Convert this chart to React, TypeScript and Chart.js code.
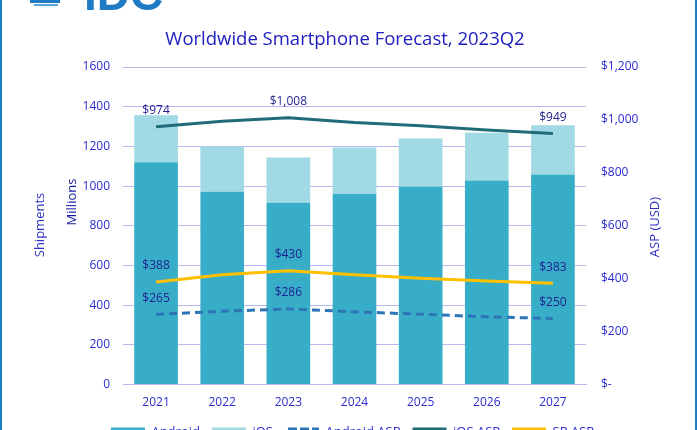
import React, { useEffect, useRef } from 'react';
import { Chart, registerables } from 'chart.js';
Chart.register(...registerables);

const years = ['2021', '2022', '2023', '2024', '2025', '2026', '2027'];
const android = [1120, 972, 916, 962, 997, 1028, 1058];
const ios = [237, 228, 228, 233, 243, 241, 248];
const androidAsp = [265, 277, 286, 275, 266, 256, 250];
const iosAsp = [974, 995, 1008, 990, 978, 962, 949];
const spAsp = [388, 415, 430, 415, 402, 391, 383];
const labeledIdx = [0, 2, 6];

const C_ANDROID = '#37adc8';
const C_IOS = '#a1d9e4';
const C_ANDROID_ASP = '#2e75b6';
const C_IOS_ASP = '#1f6b78';
const C_SP_ASP = '#ffc000';
const TICK = '#2b2bd0';
const LABEL = '#1f1f90';
const GRID = '#b8b8f0';
const FONT = '"Open Sans", sans-serif';

function fmtMoney(v: number) {
  if (v === 0) return '$-';
  return '$' + v.toLocaleString('en-US');
}

function dashPattern(ctx: CanvasRenderingContext2D, color: string) {
  const c = document.createElement('canvas');
  c.width = 12;
  c.height = 12;
  const g = c.getContext('2d')!;
  g.fillStyle = color;
  g.fillRect(0, 0, 9, 12);
  return ctx.createPattern(c, 'repeat');
}

export default function App() {
  const ref = useRef<HTMLCanvasElement>(null);
  useEffect(() => {
    const canvas = ref.current!;
    const ctx = canvas.getContext('2d')!;
    const decor = {
      id: 'decor',
      beforeDraw(chart: any) {
        const c = chart.ctx;
        c.save();
        c.fillStyle = '#ffffff';
        c.fillRect(0, 0, chart.width, chart.height);
        // IDC logo (partially cut off)
        c.fillStyle = '#1e7bc4';
        c.fillRect(30, 0, 30, 3);
        c.fillStyle = '#5aa3d8';
        c.fillRect(34, 4, 24, 2);
        c.fillStyle = '#1e7bc4';
        c.font = 'bold 46px Arial, sans-serif';
        c.textAlign = 'left';
        c.textBaseline = 'alphabetic';
        c.fillText('IDC', 84, 10);
        // borders
        c.fillStyle = '#1a7cc4';
        c.fillRect(0, 0, 2, chart.height);
        c.fillRect(695, 0, 2, chart.height);
        // title
        c.fillStyle = '#2020c0';
        c.font = '18.5px ' + FONT;
        c.textAlign = 'center';
        c.textBaseline = 'middle';
        c.fillText('Worldwide Smartphone Forecast, 2023Q2', 345, 40);
        // axis titles
        const vt = (t: string, x: number, y: number, col: string) => {
          c.save();
          c.translate(x, y);
          c.rotate(-Math.PI / 2);
          c.fillStyle = col;
          c.font = '13px ' + FONT;
          c.textAlign = 'center';
          c.textBaseline = 'middle';
          c.fillText(t, 0, 0);
          c.restore();
        };
        vt('Shipments', 40, 225, '#3030c8');
        vt('Millions', 72, 202, '#1a1aa0');
        vt('ASP (USD)', 655, 227, '#2b2bc8');
        c.restore();
      },
    };
    const labels = {
      id: 'vlabels',
      afterDatasetsDraw(chart: any) {
        const c = chart.ctx;
        c.save();
        c.fillStyle = LABEL;
        c.font = '12px ' + FONT;
        c.textAlign = 'center';
        c.textBaseline = 'middle';
        [2, 3, 4].forEach((di) => {
          const meta = chart.getDatasetMeta(di);
          const data = chart.data.datasets[di].data as number[];
          labeledIdx.forEach((i) => {
            const p = meta.data[i];
            c.fillText(fmtMoney(data[i]), p.x, p.y - 16);
          });
        });
        c.restore();
      },
    };
    const chart = new Chart(ctx, {
      type: 'bar',
      data: {
        labels: years,
        datasets: [
          { type: 'bar', label: 'Android', data: android, backgroundColor: C_ANDROID, yAxisID: 'y', order: 2, categoryPercentage: 1, barPercentage: 0.66 },
          { type: 'bar', label: 'iOS', data: ios, backgroundColor: C_IOS, yAxisID: 'y', order: 2, categoryPercentage: 1, barPercentage: 0.66 },
          { type: 'line', label: 'Android ASP', data: androidAsp, borderColor: C_ANDROID_ASP, borderWidth: 3, borderDash: [8, 5], pointRadius: 0, yAxisID: 'y1', order: 1 },
          { type: 'line', label: 'iOS ASP', data: iosAsp, borderColor: C_IOS_ASP, borderWidth: 3, pointRadius: 0, yAxisID: 'y1', order: 1 },
          { type: 'line', label: 'SP ASP', data: spAsp, borderColor: C_SP_ASP, borderWidth: 3, pointRadius: 0, yAxisID: 'y1', order: 1 },
        ] as any,
      },
      options: {
        animation: false,
        responsive: false,
        layout: { padding: { top: 67, bottom: 0, left: 8, right: 0 } },
        plugins: {
          title: { display: false },
          tooltip: { enabled: false },
          legend: {
            position: 'bottom',
            labels: {
              color: TICK,
              font: { family: FONT, size: 13 },
              boxWidth: 34,
              boxHeight: 10,
              padding: 12,
              generateLabels: (ch: any) =>
                ch.data.datasets.map((ds: any, i: number) => {
                  let fill: any = ds.backgroundColor;
                  if (ds.type === 'line') fill = ds.borderDash ? dashPattern(ch.ctx, ds.borderColor) : ds.borderColor;
                  return {
                    text: ds.label,
                    fillStyle: fill,
                    strokeStyle: 'transparent',
                    lineWidth: 0,
                    fontColor: TICK,
                    datasetIndex: i,
                    hidden: false,
                  };
                }),
            },
          },
        },
        scales: {
          x: {
            stacked: true,
            grid: { display: false, drawTicks: false },
            border: { display: true, color: GRID },
            ticks: { color: TICK, font: { family: FONT, size: 12 }, padding: 11 },
            afterFit: (s: any) => { s.height = s.height - 7; },
          },
          y: {
            stacked: true,
            position: 'left',
            min: 0,
            max: 1600,
            ticks: { stepSize: 200, color: TICK, font: { family: FONT, size: 12 }, padding: 13, callback: (v: any) => String(v) },
            grid: { color: GRID, drawTicks: false },
            border: { display: false },
            afterFit: (s: any) => { s.width = 115; },
          },
          y1: {
            position: 'right',
            min: 0,
            max: 1200,
            ticks: { stepSize: 200, color: TICK, font: { family: FONT, size: 12 }, padding: 15, callback: (v: any) => fmtMoney(Number(v)) },
            grid: { display: false, drawTicks: false },
            border: { display: false },
            afterFit: (s: any) => { s.width = 111; },
          },
        },
      } as any,
      plugins: [decor, labels],
    });
    return () => chart.destroy();
  }, []);
  return (
    <div style={{ position: 'fixed', left: 0, top: 0, width: 697, height: 430, overflow: 'hidden', background: '#fff' }}>
      <canvas ref={ref} width={697} height={449} style={{ display: 'block', width: 697, height: 449 }} />
    </div>
  );
}
